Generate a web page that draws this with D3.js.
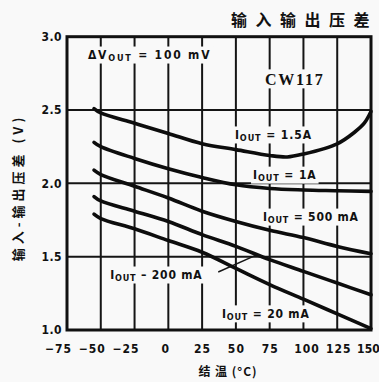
<!DOCTYPE html>
<html>
<head>
<meta charset="utf-8">
<script src="https://cdn.jsdelivr.net/npm/d3@7/dist/d3.min.js"></script>
<style>
  html, body { margin: 0; padding: 0; background: #f9f9f9; overflow: hidden; }
  svg { display: block; }
  text { fill: #111; }
</style>
</head>
<body>
<svg id="chart" width="379" height="382"></svg>
<script>
// ---- data ----
const xTicks = [-75, -50, -25, 0, 25, 50, 75, 100, 125, 150];
const xTickLabels = ["\u221275", "\u221250", "\u221225", "0", "25", "50", "75", "100", "125", "150"];
const yTicks = [1.0, 1.5, 2.0, 2.5, 3.0];
const yTickLabels = ["1.0", "1.5", "2.0", "2.5", "3.0"];

const temps = [-55, -50, -25, 0, 25, 50, 75, 100, 125, 150];
const temps15 = [-55, -50, -25, 0, 25, 50, 75, 88, 100, 125, 138, 145, 150];
const v1500 = [2.51, 2.48, 2.41, 2.34, 2.27, 2.23, 2.19, 2.18, 2.20, 2.27, 2.35, 2.41, 2.49];
const v1000 = [2.28, 2.25, 2.17, 2.10, 2.04, 1.99, 1.965, 1.955, 1.95, 1.945];
const v500  = [2.09, 2.06, 1.98, 1.90, 1.81, 1.74, 1.68, 1.63, 1.57, 1.52];
const v200  = [1.91, 1.88, 1.81, 1.74, 1.65, 1.57, 1.48, 1.40, 1.32, 1.24];
const v20   = [1.79, 1.76, 1.69, 1.61, 1.53, 1.42, 1.31, 1.21, 1.11, 1.01];

const seriesNames = ["1.5A", "1A", "500 mA", "200 mA", "20 mA"];

const title = "输入输出压差";
const yTitle = "输入-输出压差 (V)";
const xTitle = "结 温 (°C)";
const deviceName = "CW117";

// ---- drawing ----
const svg = d3.select("#chart");
const pLeft = 67, pRight = 371, pTop = 36.7, pBottom = 330;
const x = d3.scaleLinear().domain([-75, 150]).range([pLeft, pRight]);
const y = d3.scaleLinear().domain([1, 3]).range([pBottom, pTop]);
const font = "'DejaVu Sans Condensed', 'Liberation Sans Narrow', sans-serif";

// gridlines
const g = svg.append("g");
g.selectAll("line.v").data(xTicks.slice(1, -1)).join("line")
  .attr("x1", d => x(d)).attr("x2", d => x(d))
  .attr("y1", y(3)).attr("y2", y(1))
  .attr("stroke", "#151515").attr("stroke-width", 2);
g.selectAll("line.h").data(yTicks.slice(1, -1)).join("line")
  .attr("x1", x(-75)).attr("x2", x(150))
  .attr("y1", d => y(d)).attr("y2", d => y(d))
  .attr("stroke", "#151515").attr("stroke-width", 2);

// annotations layer (with paper-coloured backgrounds)
const ann = svg.append("g");
function label(tx, ty, parts, opts = {}) {
  const t = ann.append("text")
    .attr("x", x(tx)).attr("y", y(ty))
    .attr("dominant-baseline", "middle")
    .attr("font-family", opts.family || font)
    .attr("font-weight", opts.weight || "bold")
    .attr("font-size", opts.size || 12)
    .attr("letter-spacing", opts.ls || 0);
  parts.forEach(p => {
    const s = t.append("tspan").text(p.t);
    if (p.sub) s.attr("font-size", opts.subSize || 9).attr("dy", 3);
    if (p.up) s.attr("dy", -3);
  });
  return t;
}
const labels = [];
labels.push(label(-59.5, 2.875, [{t: "\u0394V"}, {t: "OUT", sub: true}, {t: " = 100 mV", up: true}], {ls: 1.8}));
labels.push(label(71.5, 2.70, [{t: deviceName}], {family: "'Liberation Serif', 'DejaVu Serif', serif", size: 16, ls: 1.8}));
labels.push(label(49.3, 2.33, [{t: "I"}, {t: "OUT", sub: true}, {t: "  =  " + seriesNames[0], up: true}], {ls: 0.9}));
labels.push(label(62.7, 2.056, [{t: "I"}, {t: "OUT", sub: true}, {t: "  =  " + seriesNames[1], up: true}], {ls: 0.9}));
labels.push(label(70, 1.77, [{t: "I"}, {t: "OUT", sub: true}, {t: "  =  " + seriesNames[2], up: true}], {ls: 0.8}));
labels.push(label(-43, 1.375, [{t: "I"}, {t: "OUT", sub: true}, {t: "  \u2013  " + seriesNames[3], up: true}], {ls: 0.8}));
labels.push(label(39.7, 1.11, [{t: "I"}, {t: "OUT", sub: true}, {t: "  =  " + seriesNames[4], up: true}], {ls: 0.8}));
labels.forEach(t => {
  const b = t.node().getBBox();
  ann.insert("rect", "text")
    .attr("x", b.x - 2).attr("y", b.y - 1)
    .attr("width", b.width + 4).attr("height", b.height + 2)
    .attr("fill", "#f9f9f9");
});

// leader line for 200 mA
svg.append("line")
  .attr("x1", x(-43) + 108).attr("y1", y(1.375) - 3)
  .attr("x2", x(65)).attr("y2", y(1.51))
  .attr("stroke", "#151515").attr("stroke-width", 1.4);

// frame
svg.append("rect")
  .attr("x", pLeft).attr("y", pTop)
  .attr("width", pRight - pLeft).attr("height", pBottom - pTop)
  .attr("fill", "none").attr("stroke", "#111").attr("stroke-width", 3);

// curves
const line = d3.line().x(d => x(d[0])).y(d => y(d[1])).curve(d3.curveCatmullRom.alpha(0.5));
const series = [
  d3.zip(temps15, v1500),
  d3.zip(temps, v1000),
  d3.zip(temps, v500),
  d3.zip(temps, v200),
  d3.zip(temps, v20)
];
svg.append("g").selectAll("path").data(series).join("path")
  .attr("d", line)
  .attr("fill", "none").attr("stroke", "#0d0d0d")
  .attr("stroke-width", 3.6).attr("stroke-linecap", "round");

// axes
const xAxis = svg.append("g").attr("transform", `translate(0,${pBottom})`)
  .call(d3.axisBottom(x).tickValues(xTicks).tickSize(0).tickPadding(14)
    .tickFormat((d, i) => xTickLabels[i]));
xAxis.select(".domain").remove();
xAxis.selectAll("text")
  .attr("font-family", font).attr("font-weight", "bold").attr("font-size", 12)
  .attr("letter-spacing", d => d === 150 ? 0.2 : 1).attr("fill", "#111")
  .attr("dx", d => d < 0 ? -9 : (d === 150 ? -3 : (d === 125 ? 1 : (d === 100 ? 3 : (d === 0 ? -3 : 0)))));

const yAxis = svg.append("g").attr("transform", `translate(${pLeft},0)`)
  .call(d3.axisLeft(y).tickValues(yTicks).tickSize(0).tickPadding(5)
    .tickFormat((d, i) => yTickLabels[i]));
yAxis.select(".domain").remove();
yAxis.selectAll("text")
  .attr("font-family", font).attr("font-weight", "bold").attr("font-size", 12)
  .attr("letter-spacing", 0.5).attr("fill", "#111");

// titles
svg.append("text").attr("x", 231).attr("y", 22)
  .attr("dominant-baseline", "middle")
  .attr("font-family", "'Noto Sans CJK SC', sans-serif").attr("font-weight", "bold")
  .attr("font-size", 16).attr("letter-spacing", 8.5).text(title);

svg.append("text").attr("transform", `translate(19,${(110 + 265) / 2}) rotate(-90)`)
  .attr("text-anchor", "middle").attr("dominant-baseline", "middle")
  .attr("font-family", "'Noto Sans CJK SC', sans-serif").attr("font-weight", "bold")
  .attr("font-size", 13).attr("letter-spacing", 4).text(yTitle);

svg.append("text").attr("x", 228).attr("y", 373)
  .attr("text-anchor", "middle").attr("dominant-baseline", "middle")
  .attr("font-family", "'Noto Sans CJK SC', sans-serif").attr("font-weight", "bold")
  .attr("font-size", 12).attr("letter-spacing", 1).text(xTitle);
</script>
</body>
</html>
